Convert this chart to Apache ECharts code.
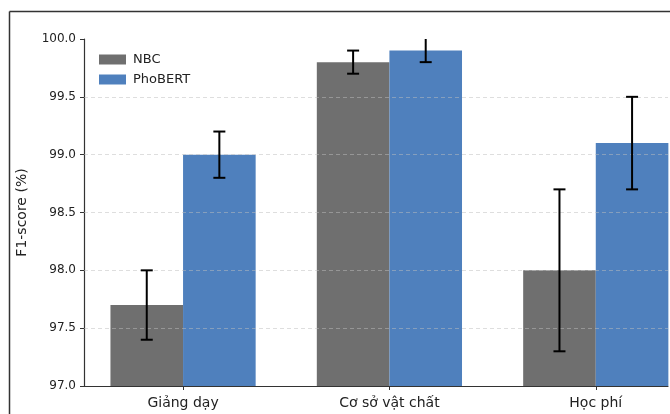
<!DOCTYPE html>
<html>
<head>
<meta charset="utf-8">
<script src="https://cdn.jsdelivr.net/npm/echarts@6/dist/echarts.min.js"></script>
<style>
  html, body { margin: 0; padding: 0; background: #fff; }
  #chart { width: 670px; height: 414px; }
</style>
</head>
<body>
<div id="chart"></div>
<script>
// data
const categories = ['Giảng dạy', 'Cơ sở vật chất', 'Học phí'];
const nbcValues = [97.7, 99.8, 98.0];
const nbcErrors = [0.3, 0.1, 0.7];
const phobertValues = [99.0, 99.9, 99.1];
const phobertErrors = [0.2, 0.1, 0.4];
const yTicks = [97.5, 98.0, 98.5, 99.0, 99.5];

const barWidth = 72.6;
const font = 'DejaVu Sans';

const chart = echarts.init(document.getElementById('chart'));

function barData(values) {
    return values.map((v, i) => [i, v]);
}

// [x, low, high, side]  side: -1 = left bar, +1 = right bar
function errData(values, errors, side) {
    return values.map((v, i) => [i, v - errors[i], v + errors[i], side]);
}

function renderErr(params, api) {
    const side = api.value(3);
    const lo = api.coord([api.value(0), api.value(1)]);
    const hi = api.coord([api.value(0), api.value(2)]);
    const top = params.coordSys.y;
    const x = lo[0] + side * barWidth / 2;
    const cap = 6;
    const style = { stroke: '#000', lineWidth: 2 };
    const kids = [
        { type: 'line', shape: { x1: x, y1: lo[1], x2: x, y2: Math.max(hi[1], top) }, style: style },
        { type: 'line', shape: { x1: x - cap, y1: lo[1], x2: x + cap, y2: lo[1] }, style: style }
    ];
    // matplotlib clips the cap when it sits on the axes edge
    if (hi[1] > top + 1) {
        kids.push({ type: 'line', shape: { x1: x - cap, y1: hi[1], x2: x + cap, y2: hi[1] }, style: style });
    }
    return { type: 'group', children: kids };
}

chart.setOption({
    animation: false,
    backgroundColor: '#fff',
    textStyle: { fontFamily: font },
    graphic: [
        // frame of the original figure (top and left edges)
        { type: 'line', shape: { x1: 9.5, y1: 11.5, x2: 670, y2: 11.5 }, style: { stroke: '#333', lineWidth: 1.5 } },
        { type: 'line', shape: { x1: 9.5, y1: 11.5, x2: 9.5, y2: 414 }, style: { stroke: '#333', lineWidth: 1.5 } }
    ],
    grid: { left: 84, top: 39, right: 2, bottom: 28 },
    legend: {
        orient: 'vertical',
        left: 94,
        top: 48,
        itemWidth: 27,
        itemHeight: 10,
        itemGap: 7,
        icon: 'rect',
        data: ['NBC', 'PhoBERT'],
        textStyle: { fontFamily: font, fontSize: 13, color: '#222', padding: [0, 0, 0, 2] }
    },
    xAxis: {
        type: 'value',
        min: -0.48,
        max: 2.35,
        splitLine: { show: false },
        axisLine: { onZero: false, lineStyle: { color: '#333', width: 1.2 } },
        axisTick: { show: true, customValues: [0, 1, 2], length: 4, lineStyle: { color: '#333' } },
        axisLabel: {
            customValues: [0, 1, 2],
            formatter: v => categories[Math.round(v)],
            fontFamily: font,
            fontSize: 14,
            color: '#222',
            margin: 10
        }
    },
    yAxis: {
        type: 'value',
        min: 97,
        max: 100,
        interval: 0.5,
        name: 'F1-score (%)',
        nameLocation: 'middle',
        nameGap: 55,
        nameTextStyle: { fontFamily: font, fontSize: 14, color: '#222' },
        splitLine: { show: false },
        axisLine: { show: true, onZero: false, lineStyle: { color: '#333', width: 1.2 } },
        axisTick: { show: true, length: 4, lineStyle: { color: '#333' } },
        axisLabel: {
            formatter: v => v.toFixed(1),
            fontFamily: font,
            fontSize: 12,
            color: '#222',
            margin: 8
        }
    },
    series: [
        {
            name: 'NBC',
            type: 'bar',
            barWidth: barWidth,
            barGap: '0%',
            itemStyle: { color: '#6f6f6f' },
            data: barData(nbcValues)
        },
        {
            name: 'PhoBERT',
            type: 'bar',
            barWidth: barWidth,
            barGap: '0%',
            itemStyle: { color: '#4f80bd' },
            data: barData(phobertValues),
            markLine: {
                silent: true,
                symbol: 'none',
                label: { show: false },
                lineStyle: { type: [4, 3], color: 'rgba(190,190,190,0.5)', width: 1 },
                data: yTicks.map(t => ({ yAxis: t }))
            },
            z: 3
        },
        {
            type: 'custom',
            renderItem: renderErr,
            z: 5,
            data: errData(nbcValues, nbcErrors, -1).concat(errData(phobertValues, phobertErrors, 1))
        }
    ]
});
</script>
</body>
</html>
